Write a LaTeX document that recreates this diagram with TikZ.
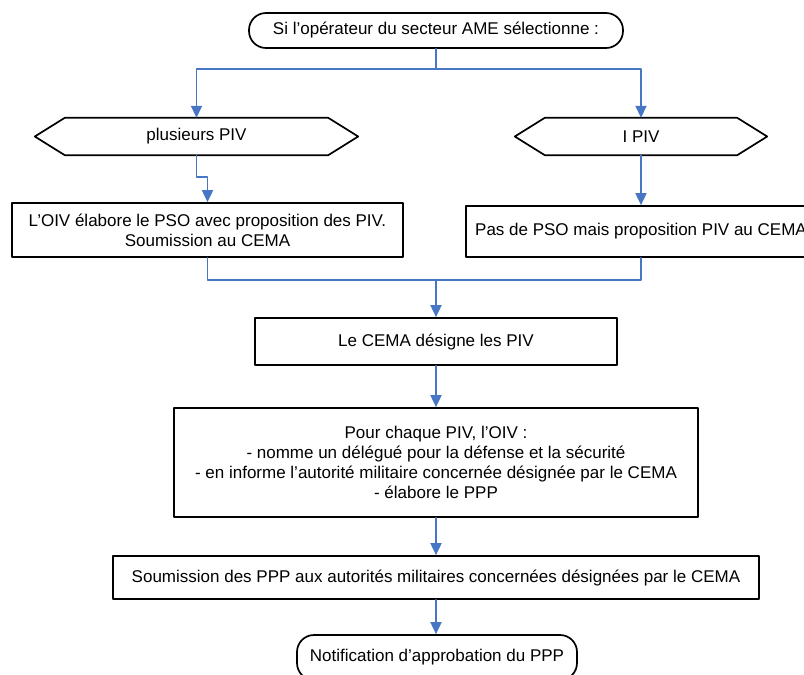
\documentclass[tikz,border=0pt]{standalone}
\usepackage{fontspec}
\setmainfont{Liberation Sans}
\usepackage{tikz}
\usetikzlibrary{arrows.meta, calc, positioning}
\usepackage{xcolor}
\definecolor{flowblue}{RGB}{70, 118, 196}

\begin{document}
\begin{tikzpicture}[x=1pt, y=-1pt, line cap=round, line join=round, >=Triangle,
        font=\fontsize{17}{20}\selectfont,
        box/.style={draw, black, line width=1.7pt, align=center, inner sep=0pt},
        term/.style={box, rounded corners=17pt},
        hexa/.style={align=center, inner sep=0pt},
        link/.style={-, flowblue, line width=1.8pt},
        flow/.style={link, -{Triangle[length=12pt, width=11pt]}}]
    	\useasboundingbox (0,0) rectangle (804,675);
    	
    	\node [term, minimum width=374pt, minimum height=35pt] (start) at (436,30.5) {Si l’opérateur du secteur AME sélectionne :};
    	\node [hexa, minimum width=323pt, minimum height=37pt] (plus) at (196.5,136.5) {plusieurs PIV};
    	\node [hexa, minimum width=252pt, minimum height=37pt] (un) at (641,136.5) {I PIV};
    	\node [box, minimum width=391pt, minimum height=54pt] (pso) at (207.5,230) {L’OIV élabore le PSO avec proposition des PIV.\\Soumission au CEMA};
    	\node [box, minimum width=350pt, minimum height=51pt] (nopso) at (641,231.5) {Pas de PSO mais proposition PIV au CEMA};
    	\node [box, minimum width=362pt, minimum height=47pt] (cema) at (436,341.5) {Le CEMA désigne les PIV};
    	\node [box, minimum width=524pt, minimum height=109pt] (oiv) at (436,462.5) {Pour chaque PIV, l’OIV :\\- nomme un délégué pour la défense et la sécurité\\- en informe l’autorité militaire concernée désignée par le CEMA\\- élabore le PPP};
    	\node [box, minimum width=646pt, minimum height=43pt] (soum) at (436,577.5) {Soumission des PPP aux autorités militaires concernées désignées par le CEMA};
    	\node [term, minimum width=280pt, minimum height=45pt] (notif) at (437,657.5) {Notification d’approbation du PPP};
    	
		\draw [black, line width=1.7pt] (plus.west) -- ($(plus.north west)+(30,0)$) -- ($(plus.north east)+(-30,0)$) -- (plus.east) -- ($(plus.south east)+(-30,0)$) -- ($(plus.south west)+(30,0)$) -- cycle;
		\draw [black, line width=1.7pt] (un.west) -- ($(un.north west)+(30,0)$) -- ($(un.north east)+(-30,0)$) -- (un.east) -- ($(un.south east)+(-30,0)$) -- ($(un.south west)+(30,0)$) -- cycle;
		
		\coordinate (split) at (436,69);
		\coordinate (merge) at (436,280);
		
		\draw [link] (start.south) -- (split);
		\draw [flow] (split) -| (plus.north);
		\draw [flow] (split) -| (un.north);
		\draw [flow] (plus.south) -- ++(0,22) -| (pso.north);
		\draw [flow] (un.south) -- (nopso.north);
		\draw [link] (pso.south) |- (merge);
		\draw [link] (nopso.south) |- (merge);
		\draw [flow] (merge) -- (cema.north);
		\draw [flow] (cema.south) -- (oiv.north);
		\draw [flow] (oiv.south) -- (soum.north);
		\draw [flow] (soum.south) -- (soum.south |- notif.north);
    \end{tikzpicture}
\end{document}
